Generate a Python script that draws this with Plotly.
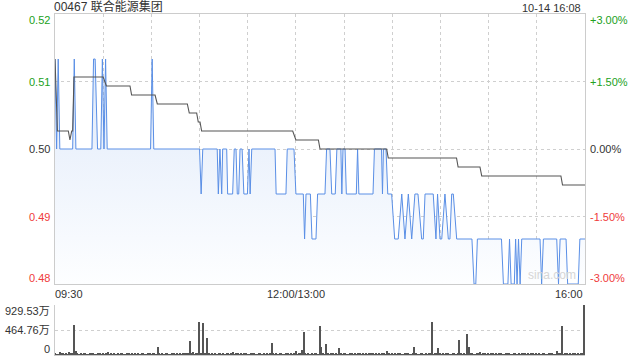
import plotly.graph_objects as go

# ---------------- data ----------------
title_text = "00467 联合能源集团"
timestamp_text = "10-14 16:08"
prev_close = 0.50

# left price ticks (positions on the axis) and their labels
price_ticks = [0.515, 0.5075, 0.50, 0.4925, 0.485]
price_tick_text = ["0.52", "0.51", "0.50", "0.49", "0.48"]
pct_tick_text = ["+3.00%", "+1.50%", "0.00%", "-1.50%", "-3.00%"]

# minutes since 09:30 (trading minutes, lunch break removed)
time_ticks = [0, 150, 330]
time_tick_text = ["09:30", "12:00/13:00", "16:00"]
grid_minutes = [30, 60, 90, 120, 150, 180, 210, 240, 270, 300]

vol_ticks = [929.53, 464.76, 0]
vol_tick_text = ["929.53万", "464.76万", "0"]

# price line vertices (minute, price)
price_points = [
    (0, 0.51), (1, 0.50), (2, 0.51), (3, 0.50), (11, 0.50), (12, 0.51), (13, 0.50),
    (23, 0.50), (24, 0.51), (25, 0.51), (26.5, 0.50), (28.5, 0.50), (29.5, 0.51),
    (30.5, 0.50), (31.5, 0.51), (32.5, 0.50), (59.5, 0.50), (60.5, 0.51), (61.5, 0.50),
    (90, 0.50), (91, 0.495), (92, 0.50),
    (101, 0.50), (101.7, 0.495), (102.7, 0.50), (103.8, 0.495), (104.4, 0.50),
    (106.9, 0.50), (107.5, 0.495), (110.6, 0.495), (111.6, 0.50), (112.7, 0.50),
    (113.5, 0.495), (114.4, 0.495), (115.2, 0.50), (116.5, 0.50), (117.6, 0.495),
    (119.8, 0.495), (120.8, 0.50), (121.5, 0.495), (122.5, 0.50), (137, 0.50),
    (137.7, 0.495), (143.8, 0.495), (144.6, 0.50), (148.8, 0.50), (150, 0.495),
    (154.6, 0.495), (155.4, 0.49), (156.3, 0.495), (159, 0.495), (160, 0.49),
    (162.5, 0.49), (163.5, 0.495), (168.1, 0.495), (169.1, 0.50), (171.2, 0.50),
    (172.3, 0.495), (174.5, 0.495), (175.5, 0.50), (178, 0.50), (178.6, 0.495),
    (179.3, 0.50), (180.6, 0.50), (181.4, 0.495), (187.6, 0.495), (188.4, 0.50),
    (189.2, 0.495), (198, 0.495), (198.9, 0.50), (203.3, 0.50), (203.9, 0.495),
    (204.5, 0.50), (206.1, 0.50), (207.2, 0.495), (209.6, 0.495), (211.5, 0.49),
    (213.7, 0.49), (215.9, 0.495), (217.9, 0.49), (220, 0.495), (222.1, 0.49),
    (224.1, 0.495), (226, 0.495), (228.3, 0.49), (229.3, 0.49), (230.4, 0.495),
    (235.5, 0.495), (237.2, 0.49), (238.2, 0.495), (239.7, 0.49), (240.8, 0.49),
    (242.8, 0.495), (244.9, 0.49), (245.9, 0.49), (247, 0.495), (248, 0.495),
    (250.1, 0.49), (259.6, 0.49), (260.9, 0.485), (262, 0.485), (263, 0.49),
    (278, 0.49), (279.2, 0.485), (282, 0.485), (283, 0.49), (284, 0.485),
    (286, 0.485), (286.8, 0.49), (287.7, 0.485), (288.6, 0.49), (289.6, 0.485),
    (290.6, 0.49), (302, 0.49), (303, 0.485), (304.1, 0.49), (312.4, 0.49),
    (313.5, 0.485), (314.5, 0.49), (318.2, 0.49), (319.2, 0.485), (325.8, 0.485),
    (326.8, 0.49), (330, 0.49),
]

# average price line vertices (minute, price)
avg_points = [
    (0, 0.510), (1.5, 0.502), (8.3, 0.502), (9.3, 0.501), (10.4, 0.502), (11, 0.502),
    (11.8, 0.508), (30, 0.508), (32, 0.507), (46.7, 0.507), (47.7, 0.506),
    (62.3, 0.506), (63.7, 0.505), (82.4, 0.505), (83.6, 0.504), (88.2, 0.504),
    (89.2, 0.503), (90.3, 0.503), (91.3, 0.502), (148, 0.502), (150, 0.501),
    (164, 0.501), (165, 0.500), (206.5, 0.500), (207.5, 0.499), (250, 0.499),
    (251, 0.498), (264.6, 0.498), (265.7, 0.497), (315, 0.497), (316, 0.496),
    (330, 0.496),
]

# volume per minute (万股), minutes 0..330
volume = [
    30, 16, 18, 63, 20, 31, 18, 24, 16, 50, 20, 28, 553, 69, 24, 18, 22, 16, 20, 24, 18, 16, 22, 20, 24, 18, 16, 20, 22, 18,
    20, 16, 24, 50, 18, 22, 16, 20, 18, 24, 16, 20, 22, 18, 16, 31, 20, 18, 24, 16, 20, 18, 22, 16, 20, 24, 18, 16, 20, 22,
    18, 24, 20, 16, 144, 20, 18, 22, 16, 24, 20, 18, 16, 22, 20, 18, 24, 16, 20, 18, 31, 20, 30, 24, 257, 20, 50, 18, 24, 40,
    615, 28, 597, 24, 20, 314, 22, 18, 24, 16, 20, 18, 22, 20, 16, 24, 18, 20, 22, 16, 20, 50, 18, 24, 20, 16, 22, 18, 20, 24,
    18, 16, 22, 20, 24, 18, 16, 20, 22, 18, 24, 16, 20, 18, 22, 220, 20, 18, 24, 16, 20, 22, 18, 16, 24, 20, 18, 22, 16, 20,
    69, 18, 24, 20, 94, 427, 22, 18, 20, 16, 24, 18, 20, 22, 16, 540, 144, 20, 18, 207, 22, 16, 20, 24, 18, 20, 16, 126, 22, 18,
    20, 24, 16, 18, 22, 20, 16, 24, 18, 20, 22, 16, 20, 18, 24, 16, 20, 22, 31, 18, 24, 16, 20, 18, 22, 20, 16, 69, 24, 18,
    20, 16, 22, 18, 24, 20, 16, 18, 22, 20, 24, 16, 18, 20, 144, 22, 18, 16, 24, 20, 18, 22, 16, 20, 24, 615, 18, 20, 22, 126,
    20, 18, 24, 16, 20, 22, 18, 16, 24, 20, 18, 22, 270, 20, 16, 24, 18, 396, 144, 20, 22, 18, 16, 24, 20, 50, 18, 22, 20, 16,
    24, 18, 31, 20, 16, 22, 18, 24, 20, 16, 18, 22, 20, 24, 16, 18, 20, 22, 16, 24, 18, 20, 22, 31, 16, 20, 18, 24, 22, 16,
    20, 18, 24, 16, 22, 20, 18, 16, 24, 20, 22, 18, 16, 82, 20, 24, 540, 18, 31, 20, 16, 22, 18, 24, 20, 16, 22, 18, 20, 24, 929.53,
]

# ---------------- style ----------------
GREEN = "#21a121"
RED = "#ef3b3b"
NEUTRAL = "#333333"
GRID = "#cfcfcf"
BORDER = "#cccccc"
FONT = "Liberation Sans, Arial, Noto Sans CJK SC, sans-serif"

price_t = [p[0] for p in price_points]
price_v = [p[1] for p in price_points]
avg_t = [p[0] for p in avg_points]
avg_v = [p[1] for p in avg_points]
vol_t = list(range(len(volume)))

price_top = 1.0
price_bottom = (355 - 284) / 341
vol_top = (355 - 305) / 341

fig = go.Figure()
fig.add_trace(go.Scatter(
    x=price_t, y=price_v, mode="lines",
    line=dict(color="#5a8fe6", width=1),
    fill="tozeroy",
    fillgradient=dict(type="vertical",
                      colorscale=[[0, "rgb(253,254,255)"], [1, "rgb(224,234,250)"]],
                      start=price_ticks[-1], stop=0.51),
    xaxis="x", yaxis="y", hoverinfo="skip",
))
fig.add_trace(go.Scatter(
    x=avg_t, y=avg_v, mode="lines",
    line=dict(color="#555555", width=1.1),
    xaxis="x", yaxis="y", hoverinfo="skip",
))
fig.add_trace(go.Bar(
    x=vol_t, y=volume, width=0.62,
    marker=dict(color="#555555", line=dict(width=0)),
    xaxis="x2", yaxis="y2", hoverinfo="skip",
))

def tick_color(v):
    if abs(v - prev_close) < 1e-9:
        return NEUTRAL
    return GREEN if v > prev_close else RED

annotations = []
shift_price = [-6, 0, 0, 0, 6]
for v, lab, pct, sh in zip(price_ticks, price_tick_text, pct_tick_text, shift_price):
    c = tick_color(v)
    annotations.append(dict(xref="paper", yref="y", x=0, y=v, text=lab, showarrow=False,
                            xanchor="right", yanchor="middle", xshift=-3, yshift=sh,
                            font=dict(size=11, color=c, family=FONT)))
    annotations.append(dict(xref="paper", yref="y", x=1, y=v, text=pct, showarrow=False,
                            xanchor="left", yanchor="middle", xshift=3, yshift=sh,
                            font=dict(size=11, color=c, family=FONT)))

shift_vol = [-6, 0, 6]
for v, lab, sh in zip(vol_ticks, vol_tick_text, shift_vol):
    annotations.append(dict(xref="paper", yref="y2", x=0, y=v, text=lab, showarrow=False,
                            xanchor="right", yanchor="middle", xshift=-3, yshift=sh,
                            font=dict(size=11, color=NEUTRAL, family=FONT)))

anchors = ["left", "center", "right"]
for v, lab, a in zip(time_ticks, time_tick_text, anchors):
    annotations.append(dict(xref="x", yref="paper", x=v, y=price_bottom, text=lab,
                            showarrow=False, xanchor=a, yanchor="top", yshift=-2,
                            xshift=-2 if a == "left" else 0,
                            font=dict(size=11, color=NEUTRAL, family=FONT)))

annotations.append(dict(xref="paper", yref="paper", x=0, y=1, text=title_text, showarrow=False,
                        xanchor="left", yanchor="bottom", xshift=-3, yshift=-2,
                        font=dict(size=12, color=NEUTRAL, family=FONT)))
annotations.append(dict(xref="paper", yref="paper", x=1, y=1, text=timestamp_text, showarrow=False,
                        xanchor="right", yanchor="bottom", xshift=-2, yshift=-2,
                        font=dict(size=11, color=NEUTRAL, family=FONT)))
annotations.append(dict(xref="paper", yref="paper", x=0.938, y=price_bottom, text="sina.com",
                        showarrow=False, xanchor="center", yanchor="bottom", yshift=0,
                        font=dict(size=12, color="#d6d6d6", family=FONT)))

fig.update_layout(
    width=640, height=360,
    margin=dict(l=55, r=55, t=14, b=5),
    paper_bgcolor="white", plot_bgcolor="white",
    showlegend=False, bargap=0,
    font=dict(family=FONT, size=11, color=NEUTRAL),
    xaxis=dict(domain=[0, 1], range=[0, 330], anchor="y",
               tickvals=grid_minutes, showticklabels=False, ticks="",
               showgrid=True, gridcolor=GRID, griddash="dot", gridwidth=1,
               showline=True, linecolor=BORDER, linewidth=1, mirror=True, zeroline=False),
    yaxis=dict(domain=[price_bottom, price_top], range=[price_ticks[-1], price_ticks[0]],
               tickvals=price_ticks[1:4], showticklabels=False, ticks="",
               showgrid=True, gridcolor=GRID, griddash="dot", gridwidth=1,
               showline=True, linecolor=BORDER, linewidth=1, mirror=True, zeroline=False),
    xaxis2=dict(domain=[0, 1], range=[0, 330.4], anchor="y2",
                showticklabels=False, ticks="", showgrid=False,
                showline=True, linecolor=BORDER, linewidth=1, zeroline=False),
    yaxis2=dict(domain=[0, vol_top], range=[0, vol_ticks[0]], anchor="x2",
                tickvals=vol_ticks[:2], showticklabels=False, ticks="",
                showgrid=True, gridcolor=GRID, griddash="dot", gridwidth=1,
                showline=True, linecolor=BORDER, linewidth=1, zeroline=False),
    annotations=annotations,
)

fig.write_html("out.html")
